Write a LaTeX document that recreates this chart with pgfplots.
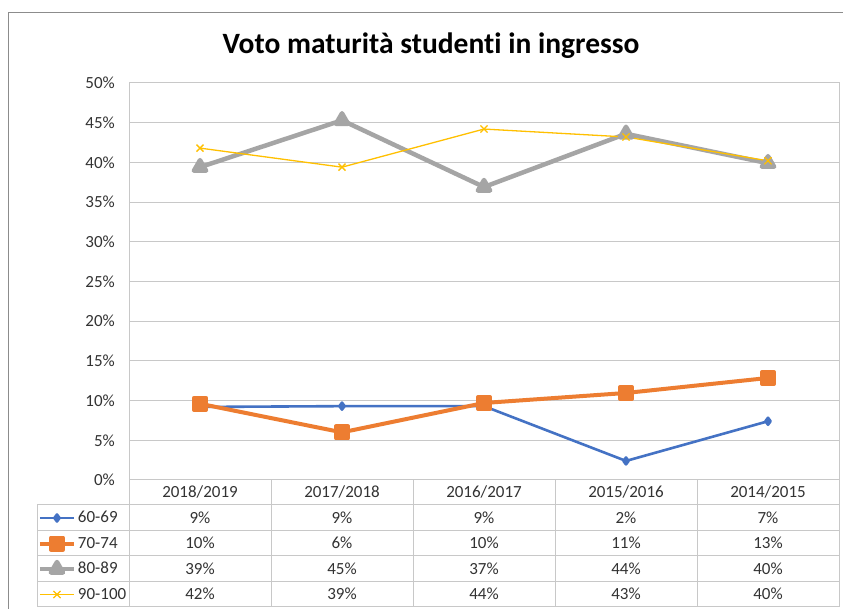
\documentclass[border=0pt]{standalone}
\usepackage{pgfplots}
\pgfplotsset{compat=1.18}
\usepackage{fontspec}
\setmainfont{Carlito}[Ligatures=NoCommon]

\definecolor{s1}{HTML}{4472C4}
\definecolor{s2}{HTML}{ED7D31}
\definecolor{s3}{HTML}{A5A5A5}
\definecolor{s4}{HTML}{FFC000}
\definecolor{gridc}{HTML}{C8C8C8}
\definecolor{framec}{HTML}{8C8C8C}
\definecolor{txt}{HTML}{333333}

\begin{document}
\begin{tikzpicture}[font=\fontsize{17}{20}\selectfont]
\useasboundingbox (0pt,0pt) rectangle (843pt,609pt);
\clip (0pt,0pt) rectangle (843pt,609pt);
\fill[white] (0pt,0pt) rectangle (843pt,609pt);
% chart frame (cut off at right and bottom)
\draw[framec, line width=1pt] (8pt,596pt) -- (870pt,596pt);
\draw[framec, line width=1pt] (8pt,596pt) -- (8pt,-20pt);

\node[font=\bfseries\fontsize{29.5}{34}\selectfont, text=black] at (431pt,563pt) {Voto maturità studenti in ingresso};

\begin{axis}[
  at={(129pt,129pt)}, anchor=south west,
  scale only axis, width=710pt, height=397pt,
  xmin=-0.5, xmax=4.5, ymin=0, ymax=50,
  xtick=\empty,
  ytick={0,5,...,50},
  yticklabel={\pgfmathprintnumber{\tick}\%},
  /pgf/number format/assume math mode=true,
  yticklabel style={inner sep=0pt, xshift=-14pt, text=txt},
  major tick length=0pt,
  ymajorgrids, grid style={gridc, line width=1pt},
  axis line style={gridc, line width=1pt},
  clip=false,
  legend style={at={(axis description cs:-0.1296,-0.063)}, anchor=north west,
    draw=none, fill=none, inner sep=0pt, outer sep=0pt,
    row sep=0pt, column sep=0pt,
    nodes={inner sep=0pt, outer sep=0pt, text height=17.5pt, text depth=8pt, anchor=base west, text=txt},
    font=\fontsize{17}{20}\selectfont},
  legend cell align=left,
  legend image code/.code={%
    \path[draw=none, fill=none, use as bounding box] (0pt,-8pt) rectangle (41pt,17.5pt);
    \draw[mark repeat=2,mark phase=2,#1] plot coordinates {(3pt,4.5pt) (20pt,4.5pt) (37pt,4.5pt)};},
]
\addplot[s1, line width=2.6pt, line join=round, mark=diamond*, mark size=3.5pt, mark options={solid}]
  coordinates {(0,9.2) (1,9.3) (2,9.3) (3,2.4) (4,7.4)};
\addlegendentry{60-69}
\addplot[s2, line width=4pt, line join=round, mark=square*, mark size=6pt, mark options={solid}]
  coordinates {(0,9.6) (1,6.0) (2,9.7) (3,10.96) (4,12.85)};
\addlegendentry{70-74}
\addplot[s3, line width=4.5pt, line join=round, mark=triangle*, mark size=7pt, mark options={solid}]
  coordinates {(0,39.4) (1,45.3) (2,36.9) (3,43.6) (4,39.9)};
\addlegendentry{80-89}
\addplot[s4, line width=1.3pt, line join=round, mark=x, mark size=5pt, mark options={solid}]
  coordinates {(0,41.8) (1,39.4) (2,44.2) (3,43.2) (4,40.2)};
\addlegendentry{90-100}
\end{axis}

% data table grid
\begin{scope}[gridc, line width=1pt]
\draw (37pt,104pt) -- (839pt,104pt);
\foreach \y in {78.5,53,27.5,2} \draw (37pt,\y pt) -- (839pt,\y pt);
\draw (37pt,104pt) -- (37pt,2pt);
\foreach \x in {129,271,413,555,697} \draw (\x pt,129pt) -- (\x pt,2pt);
\draw (839pt,526pt) -- (839pt,2pt);
\end{scope}

% data table text
\begin{scope}[every node/.style={text=txt, inner sep=0pt, text height=10.7pt, text depth=0pt, anchor=center}]
\node at (200pt,116.5pt) {2018/2019};
\node at (342pt,116.5pt) {2017/2018};
\node at (484pt,116.5pt) {2016/2017};
\node at (626pt,116.5pt) {2015/2016};
\node at (768pt,116.5pt) {2014/2015};
\node at (200pt,91pt) {9\%};  \node at (342pt,91pt) {9\%};  \node at (484pt,91pt) {9\%};  \node at (626pt,91pt) {2\%};  \node at (768pt,91pt) {7\%};
\node at (200pt,65.5pt) {10\%}; \node at (342pt,65.5pt) {6\%}; \node at (484pt,65.5pt) {10\%}; \node at (626pt,65.5pt) {11\%}; \node at (768pt,65.5pt) {13\%};
\node at (200pt,40pt) {39\%}; \node at (342pt,40pt) {45\%}; \node at (484pt,40pt) {37\%}; \node at (626pt,40pt) {44\%}; \node at (768pt,40pt) {40\%};
\node at (200pt,14.5pt) {42\%}; \node at (342pt,14.5pt) {39\%}; \node at (484pt,14.5pt) {44\%}; \node at (626pt,14.5pt) {43\%}; \node at (768pt,14.5pt) {40\%};
\end{scope}
\end{tikzpicture}
\end{document}
